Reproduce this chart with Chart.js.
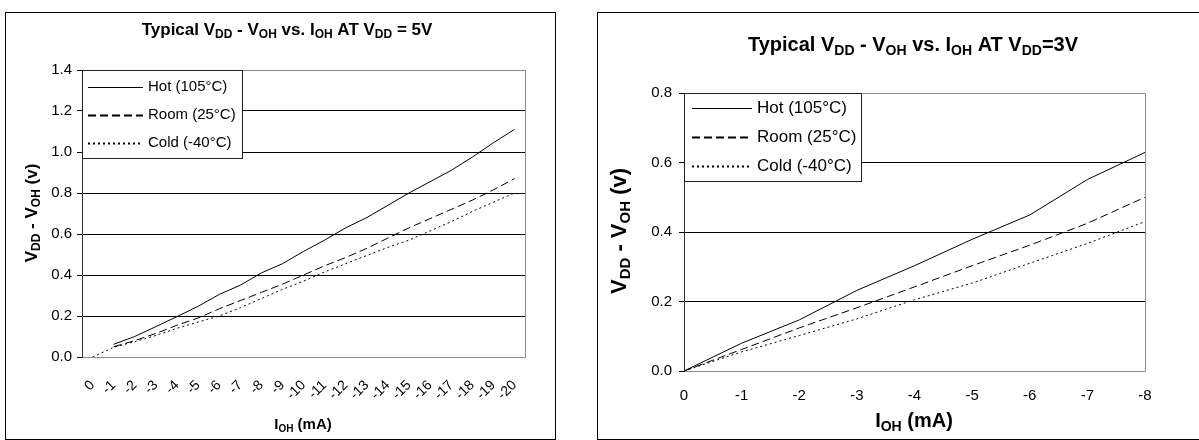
<!DOCTYPE html>
<html>
<head>
<meta charset="utf-8">
<script src="https://cdn.jsdelivr.net/npm/chart.js@4.4.1/dist/chart.umd.min.js"></script>
<style>
  html, body { margin: 0; padding: 0; background: #fff; }
  body { width: 1199px; height: 440px; position: relative; overflow: hidden; }
  .box { position: absolute; top: 12px; height: 428px; border: 1px solid #000; box-sizing: border-box; background: #fff; }
  #box5 { left: 5px; width: 551px; }
  #box3 { left: 597px; width: 640px; }
  canvas { display: block; }
</style>
</head>
<body>
<div class="box" id="box5"><canvas id="chart5" width="549" height="426"></canvas></div>
<div class="box" id="box3"><canvas id="chart3" width="638" height="426"></canvas></div>
<script>
// series names
const seriesNames = ['Hot (105°C)', 'Room (25°C)', 'Cold (-40°C)'];

// VDD = 5V, IOH 0 .. -20 mA
const xLabels5 = ['0', '-1', '-2', '-3', '-4', '-5', '-6', '-7', '-8', '-9', '-10',
                  '-11', '-12', '-13', '-14', '-15', '-16', '-17', '-18', '-19', '-20'];
const hot5  = [null, 0.062, 0.10, 0.148, 0.197, 0.247, 0.305, 0.35, 0.41, 0.455, 0.515,
               0.57, 0.63, 0.68, 0.74, 0.80, 0.855, 0.91, 0.975, 1.045, 1.11];
const room5 = [null, 0.05, 0.08, 0.115, 0.155, 0.19, 0.235, 0.275, 0.315, 0.355, 0.40,
               0.445, 0.485, 0.53, 0.58, 0.63, 0.675, 0.72, 0.765, 0.815, 0.87];
const cold5 = [0, 0.047, 0.075, 0.105, 0.14, 0.17, 0.20, 0.24, 0.285, 0.33, 0.37,
               0.415, 0.455, 0.495, 0.535, 0.57, 0.615, 0.66, 0.71, 0.755, 0.80];

// VDD = 3V, IOH 0 .. -8 mA
const xLabels3 = ['0', '-1', '-2', '-3', '-4', '-5', '-6', '-7', '-8'];
const hot3  = [0, 0.08, 0.147, 0.232, 0.303, 0.379, 0.449, 0.551, 0.629];
const room3 = [0, 0.062, 0.124, 0.182, 0.242, 0.303, 0.362, 0.425, 0.50];
const cold3 = [0, 0.055, 0.102, 0.150, 0.205, 0.253, 0.31, 0.367, 0.43];

const FONT = '"Liberation Sans", Arial, sans-serif';

// draws text like 'V_{DD}' with real subscripts
function drawRich(ctx, it) {
  const parts = it.text.split(/(_\{[^}]*\})/).filter(s => s.length).map(s =>
    s.startsWith('_{') ? { t: s.slice(2, -1), sub: true } : { t: s, sub: false });
  const subSize = Math.round(it.size * 0.68);
  const fontOf = p => 'bold ' + (p.sub ? subSize : it.size) + 'px ' + FONT;
  ctx.save();
  ctx.translate(it.x, it.y);
  ctx.rotate(it.rot || 0);
  ctx.fillStyle = '#000';
  ctx.textBaseline = 'alphabetic';
  let w = 0;
  parts.forEach(p => { ctx.font = fontOf(p); w += ctx.measureText(p.t).width; });
  let cx = -w / 2;
  const base = it.size * 0.36;
  parts.forEach(p => {
    ctx.font = fontOf(p);
    ctx.fillText(p.t, cx, base + (p.sub ? it.size * 0.18 : 0));
    cx += ctx.measureText(p.t).width;
  });
  ctx.restore();
}

const richText = {
  id: 'richText',
  afterDraw(chart, args, opts) {
    (opts.items || []).forEach(it => drawRich(chart.ctx, it));
  }
};

const plotFrame = {
  id: 'plotFrame',
  afterDatasetsDraw(chart) {
    const { ctx, chartArea: a } = chart;
    ctx.save();
    ctx.lineWidth = 1;
    ctx.strokeStyle = '#8c8c8c';
    ctx.beginPath();
    ctx.moveTo(a.left, a.top + 0.5);
    ctx.lineTo(a.right + 0.5, a.top + 0.5);
    ctx.lineTo(a.right + 0.5, a.bottom + 0.5);
    ctx.lineTo(a.left, a.bottom + 0.5);
    ctx.stroke();
    ctx.strokeStyle = '#333';
    ctx.beginPath();
    ctx.moveTo(a.left + 0.5, a.top);
    ctx.lineTo(a.left + 0.5, a.bottom + 1);
    ctx.stroke();
    ctx.restore();
  }
};

const boxLegend = {
  id: 'boxLegend',
  afterDraw(chart, args, o) {
    const { ctx, chartArea: a } = chart;
    const x = Math.round(a.left), y = Math.round(a.top);
    ctx.save();
    ctx.fillStyle = '#fff';
    ctx.fillRect(x, y, o.w, o.h);
    ctx.strokeStyle = '#222';
    ctx.lineWidth = 1;
    ctx.strokeRect(x + 0.5, y + 0.5, o.w, o.h);
    ctx.font = o.size + 'px ' + FONT;
    ctx.textBaseline = 'middle';
    chart.data.datasets.forEach((ds, i) => {
      const ry = y + o.rows[i];
      ctx.strokeStyle = '#000';
      ctx.setLineDash(ds.borderDash || []);
      ctx.lineWidth = o.lineWidths[i];
      ctx.beginPath();
      ctx.moveTo(x + o.lineFrom, ry + 0.5);
      ctx.lineTo(x + o.lineTo, ry + 0.5);
      ctx.stroke();
      ctx.setLineDash([]);
      ctx.fillStyle = '#000';
      ctx.fillText(ds.label, x + o.textX, ry);
    });
    ctx.restore();
  }
};

function lineSets(hot, room, cold) {
  const base = { borderColor: '#000', borderWidth: 1, pointRadius: 0, tension: 0, fill: false };
  return [
    Object.assign({ label: seriesNames[0], data: hot }, base),
    Object.assign({ label: seriesNames[1], data: room, borderDash: [8, 4] }, base),
    Object.assign({ label: seriesNames[2], data: cold, borderDash: [2, 3] }, base)
  ];
}

Chart.defaults.font.family = FONT;
Chart.defaults.color = '#000';

new Chart(document.getElementById('chart5').getContext('2d'), {
  type: 'line',
  data: { labels: xLabels5, datasets: lineSets(hot5, room5, cold5) },
  plugins: [plotFrame, boxLegend, richText],
  options: {
    responsive: false,
    animation: false,
    devicePixelRatio: 1,
    layout: { padding: { top: 57, right: 30, left: 0, bottom: 0 } },
    scales: {
      x: {
        type: 'category',
        offset: true,
        grid: { display: false, drawTicks: false },
        border: { display: false },
        ticks: { autoSkip: false, minRotation: 45, maxRotation: 45, padding: 20,
                 font: { size: 14 }, color: '#000' },
        afterFit: s => { s.height = 82; }
      },
      y: {
        min: 0, max: 1.4,
        grid: { color: '#000', lineWidth: 1, drawTicks: true, tickLength: 5 },
        border: { display: false },
        ticks: { stepSize: 0.2, padding: 5, font: { size: 15 }, color: '#000',
                 callback: v => v.toFixed(1) },
        afterFit: s => { s.width = 76; }
      }
    },
    plugins: {
      legend: { display: false },
      title: { display: false },
      tooltip: { enabled: false },
      boxLegend: { w: 160, h: 88, size: 15, rows: [17, 45, 73], lineFrom: 6, lineTo: 61, textX: 66,
                   lineWidths: [1, 2, 2] },
      richText: { items: [
        { text: 'Typical V_{DD} - V_{OH} vs. I_{OH} AT V_{DD} = 5V', x: 281, y: 16, size: 17 },
        { text: 'V_{DD} - V_{OH} (v)', x: 25, y: 200, size: 17, rot: -Math.PI / 2 },
        { text: 'I_{OH} (mA)', x: 297, y: 411, size: 15 }
      ] }
    }
  }
});

new Chart(document.getElementById('chart3').getContext('2d'), {
  type: 'line',
  data: { labels: xLabels3, datasets: lineSets(hot3, room3, cold3) },
  plugins: [plotFrame, boxLegend, richText],
  options: {
    responsive: false,
    animation: false,
    devicePixelRatio: 1,
    layout: { padding: { top: 80, right: 91, left: 0, bottom: 0 } },
    scales: {
      x: {
        type: 'category',
        offset: false,
        grid: { display: false, drawTicks: false },
        border: { display: false },
        ticks: { autoSkip: false, maxRotation: 0, padding: 16, font: { size: 15 }, color: '#000' },
        afterFit: s => { s.height = 68; }
      },
      y: {
        min: 0, max: 0.8,
        grid: { color: '#000', lineWidth: 1, drawTicks: true, tickLength: 5 },
        border: { display: false },
        ticks: { stepSize: 0.2, padding: 7, font: { size: 15 }, color: '#000',
                 callback: v => v.toFixed(1) },
        afterFit: s => { s.width = 86; }
      }
    },
    plugins: {
      legend: { display: false },
      title: { display: false },
      tooltip: { enabled: false },
      boxLegend: { w: 177, h: 88, size: 17, rows: [15, 44, 73], lineFrom: 8, lineTo: 68, textX: 73,
                   lineWidths: [1, 2, 2] },
      richText: { items: [
        { text: 'Typical V_{DD} - V_{OH} vs. I_{OH} AT V_{DD}=3V', x: 315, y: 31, size: 20 },
        { text: 'V_{DD} - V_{OH} (v)', x: 20, y: 218, size: 22, rot: -Math.PI / 2 },
        { text: 'I_{OH} (mA)', x: 316, y: 407, size: 20 }
      ] }
    }
  }
});
</script>
</body>
</html>
